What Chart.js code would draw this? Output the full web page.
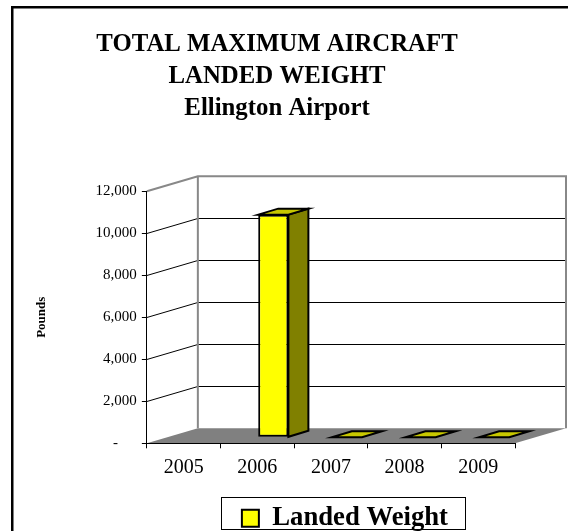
<!DOCTYPE html>
<html>
<head>
<meta charset="utf-8">
<script src="https://cdn.jsdelivr.net/npm/chart.js@4/dist/chart.umd.min.js"></script>
<style>
  html, body { margin: 0; padding: 0; background: #fff; }
  #wrap { position: relative; width: 568px; height: 531px; }
</style>
</head>
<body>
<div id="wrap"><canvas id="chart" width="568" height="531"></canvas></div>
<script>
// ── Data ──────────────────────────────────────────────────────────────────────
const years = ['2005', '2006', '2007', '2008', '2009']
const landedWeight = [null, 10600, 0, 0, 0]
const yTicks = [0, 2000, 4000, 6000, 8000, 10000, 12000]
const titleLines = ['TOTAL MAXIMUM AIRCRAFT', 'LANDED WEIGHT', 'Ellington Airport']
const yAxisTitle = 'Pounds'
const seriesLabel = 'Landed Weight'

// ── Style ─────────────────────────────────────────────────────────────────────
const SERIF = "'Liberation Serif', 'Times New Roman', serif"
const WALL = { dx: 51, dy: -15 }       // back wall offset from the front plane
const BAR_SHIFT = { dx: 16, dy: -6 }   // bars sit a bit behind the front plane
const BAR_DEPTH = { dx: 20, dy: -6 }
const WALL_EDGE = '#888888'
const FLOOR = '#808080'
const TITLE_NUDGE = 5.5
const LEGEND_NUDGE = { dx: 14, dy: 12.5 }

const box3d = {
  id: 'box3d',
  afterLayout(chart) {
    const lg = chart.legend
    if (lg) {
      lg.left += LEGEND_NUDGE.dx; lg.right += LEGEND_NUDGE.dx
      lg.top += LEGEND_NUDGE.dy; lg.bottom += LEGEND_NUDGE.dy
    }
    const tb = chart.titleBlock
    if (tb) { tb.left += TITLE_NUDGE; tb.right += TITLE_NUDGE }
  },
  beforeDraw(chart) {
    const { ctx, chartArea: { left, right, top, bottom } } = chart
    const y = chart.scales.y
    ctx.save()

    // outer frame (only top and left edges fall inside the picture)
    ctx.fillStyle = '#000'
    ctx.fillRect(11, 6, chart.width - 11, 2.5)
    ctx.fillRect(11, 6, 2.5, chart.height - 6)

    // back wall
    ctx.fillStyle = '#fff'
    ctx.fillRect(left + WALL.dx, top + WALL.dy, right - left, bottom - top)

    // floor
    ctx.fillStyle = FLOOR
    ctx.beginPath()
    ctx.moveTo(left, bottom)
    ctx.lineTo(right, bottom)
    ctx.lineTo(right + WALL.dx, bottom + WALL.dy)
    ctx.lineTo(left + WALL.dx, bottom + WALL.dy)
    ctx.closePath()
    ctx.fill()

    // gridlines: diagonal on the side wall, flat on the back wall
    ctx.strokeStyle = '#000'
    ctx.lineWidth = 1
    yTicks.forEach(v => {
      if (v <= y.min || v >= y.max) return
      const py = Math.round(y.getPixelForValue(v)) + 0.5
      ctx.beginPath()
      ctx.moveTo(left, py)
      ctx.lineTo(left + WALL.dx, py + WALL.dy)
      ctx.lineTo(right + WALL.dx, py + WALL.dy)
      ctx.stroke()
    })

    // wall edges
    ctx.strokeStyle = WALL_EDGE
    ctx.lineWidth = 2
    ctx.beginPath()
    ctx.moveTo(left, top)
    ctx.lineTo(left + WALL.dx, top + WALL.dy)
    ctx.lineTo(right + WALL.dx, top + WALL.dy)
    ctx.lineTo(right + WALL.dx, bottom + WALL.dy)
    ctx.moveTo(left + WALL.dx, top + WALL.dy)
    ctx.lineTo(left + WALL.dx, bottom + WALL.dy)
    ctx.stroke()
    ctx.restore()
  },
  beforeDatasetsDraw(chart) {
    chart.ctx.save()
    chart.ctx.translate(BAR_SHIFT.dx, BAR_SHIFT.dy)
  },
  afterDatasetsDraw(chart) {
    const ctx = chart.ctx
    const meta = chart.getDatasetMeta(0)
    ctx.lineWidth = 2
    ctx.strokeStyle = '#000'
    ctx.lineJoin = 'miter'
    meta.data.forEach((bar, i) => {
      if (landedWeight[i] == null) return
      const { x, y, base, width } = bar.getProps(['x', 'y', 'base', 'width'], true)
      const l = x - width / 2
      const r = x + width / 2
      // side face
      if (base - y > 0.5) {
        ctx.fillStyle = '#808000'
        ctx.beginPath()
        ctx.moveTo(r, y)
        ctx.lineTo(r + BAR_DEPTH.dx, y + BAR_DEPTH.dy)
        ctx.lineTo(r + BAR_DEPTH.dx, base + BAR_DEPTH.dy)
        ctx.lineTo(r, base)
        ctx.closePath()
        ctx.fill()
        ctx.stroke()
      }
      // top face
      ctx.fillStyle = '#c8c800'
      ctx.beginPath()
      ctx.moveTo(l, y)
      ctx.lineTo(r, y)
      ctx.lineTo(r + BAR_DEPTH.dx, y + BAR_DEPTH.dy)
      ctx.lineTo(l + BAR_DEPTH.dx, y + BAR_DEPTH.dy)
      ctx.closePath()
      ctx.fill()
      ctx.stroke()
    })
    ctx.restore()
  },
  afterDraw(chart) {
    const lg = chart.legend
    const hb = lg && lg.legendHitBoxes && lg.legendHitBoxes[0]
    if (!hb) return
    const ctx = chart.ctx
    ctx.save()
    ctx.strokeStyle = '#000'
    ctx.lineWidth = 1
    ctx.strokeRect(Math.round(hb.left - 21) + 0.5, Math.round(hb.top - 7.5) + 0.5,
      Math.round(hb.width + 38), Math.round(hb.height + 5.5))
    ctx.restore()
  },
}

new Chart(document.getElementById('chart'), {
  type: 'bar',
  data: {
    labels: years,
    datasets: [{
      label: seriesLabel,
      data: landedWeight,
      backgroundColor: '#ffff00',
      borderColor: '#000',
      borderWidth: 2,
      borderSkipped: false,
      categoryPercentage: 1,
      barPercentage: 0.41,
      clip: false,
    }],
  },
  plugins: [box3d],
  options: {
    responsive: false,
    animation: false,
    layout: { padding: { left: 28, right: 53, top: 29, bottom: 2 } },
    plugins: {
      title: {
        display: true,
        text: titleLines,
        color: '#000',
        font: { family: SERIF, size: 24.8, weight: 'bold', lineHeight: 1.28 },
        padding: { top: 0, bottom: 67 },
      },
      legend: {
        display: true,
        position: 'bottom',
        fullSize: false,
        labels: {
          color: '#000',
          font: { family: SERIF, size: 26.7, weight: 'bold' },
          boxWidth: 17,
          boxHeight: 17,
          padding: 6,
        },
      },
      tooltip: { enabled: false },
    },
    scales: {
      x: {
        offset: true,
        grid: { offset: true, drawOnChartArea: false, drawTicks: true, tickLength: 5, color: '#000' },
        border: { color: '#000', width: 1 },
        ticks: { color: '#000', font: { family: SERIF, size: 20 }, padding: 7, maxRotation: 0 },
      },
      y: {
        min: 0,
        max: 12000,
        afterBuildTicks: scale => { scale.ticks = yTicks.map(v => ({ value: v })) },
        grid: { drawOnChartArea: false, drawTicks: true, tickLength: 5, color: '#000' },
        border: { color: '#000', width: 1 },
        ticks: {
          color: '#000',
          font: { family: SERIF, size: 15 },
          padding: 5,
          callback: v => v === 0 ? '-     ' : v.toLocaleString('en-US'),
        },
        title: {
          display: true,
          text: yAxisTitle,
          color: '#000',
          font: { family: SERIF, size: 13, weight: 'bold' },
          padding: { top: 6, bottom: 41 },
        },
      },
    },
  },
})
</script>
</body>
</html>
